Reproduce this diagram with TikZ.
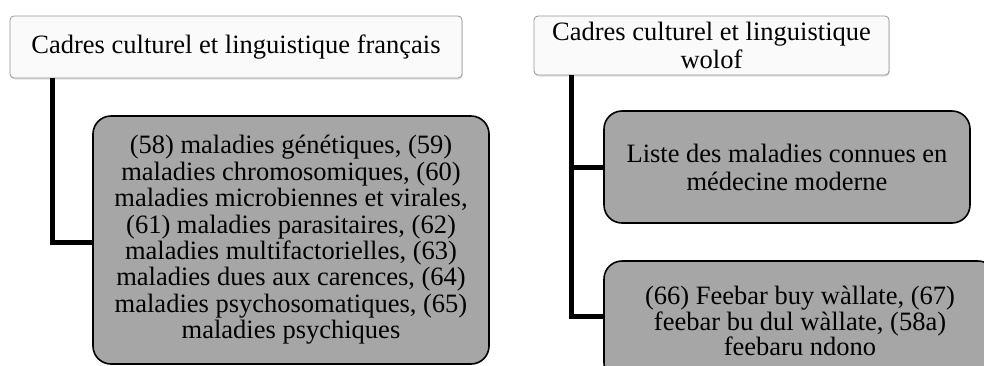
\documentclass[tikz,border=0pt]{standalone}
\usepackage{fontspec}
\setmainfont{Liberation Serif}
\usetikzlibrary{shadows}
\definecolor{boxgray}{RGB}{166,166,166}
\definecolor{edgegray}{RGB}{150,150,150}
\begin{document}
\begin{tikzpicture}[x=1pt,y=-1pt,
  font=\fontsize{26.5}{28}\selectfont,
  headbox/.style={draw=edgegray, line width=0.8pt, fill=white!98!black, rounded corners=4pt,
    align=center, inner sep=0pt,
    drop shadow={opacity=0.25, shadow xshift=0.8pt, shadow yshift=-1.5pt}},
  graybox/.style={draw=black, line width=1.6pt, fill=boxgray, rounded corners=18pt,
    align=center, inner sep=0pt},
  conn/.style={draw=black, line width=5pt}]
\useasboundingbox (0,0) rectangle (984,365);
\begin{scope}
\clip (0,0) rectangle (984,365);
\node[headbox, minimum width=452pt, minimum height=62pt] (tl) at (236,47)
  {Cadres culturel et linguistique français};
\node[headbox, minimum width=355pt, minimum height=59pt] (tr) at (711.5,45.5)
  {Cadres culturel et linguistique\\wolof};
\draw[conn] ([xshift=-184pt]tl.south) |- (94,242) coordinate (lj);
\draw[conn] ([xshift=-140.5pt]tr.south) |- (606,167) coordinate (rj1);
\draw[conn] ([xshift=-140.5pt]tr.south) |- (606,316) coordinate (rj2);
\node[graybox, minimum width=396pt, minimum height=248pt,
  font=\fontsize{26.5}{26.4}\selectfont] (big) at (291,240)
  {(58) maladies génétiques, (59)\\maladies chromosomiques, (60)\\maladies microbiennes et virales,\\(61) maladies parasitaires, (62)\\maladies multifactorielles, (63)\\maladies dues aux carences, (64)\\maladies psychosomatiques, (65)\\maladies psychiques};
\node[graybox, minimum width=366pt, minimum height=112pt] (r1) at (787,167)
  {Liste des maladies connues en\\médecine moderne};
\node[graybox, minimum width=392pt, minimum height=120pt,
  font=\fontsize{26.5}{23.5}\selectfont] (r2) at (800,321)
  {(66) Feebar buy wàllate, (67)\\feebar bu dul wàllate, (58a)\\feebaru ndono};
\end{scope}
\end{tikzpicture}
\end{document}
